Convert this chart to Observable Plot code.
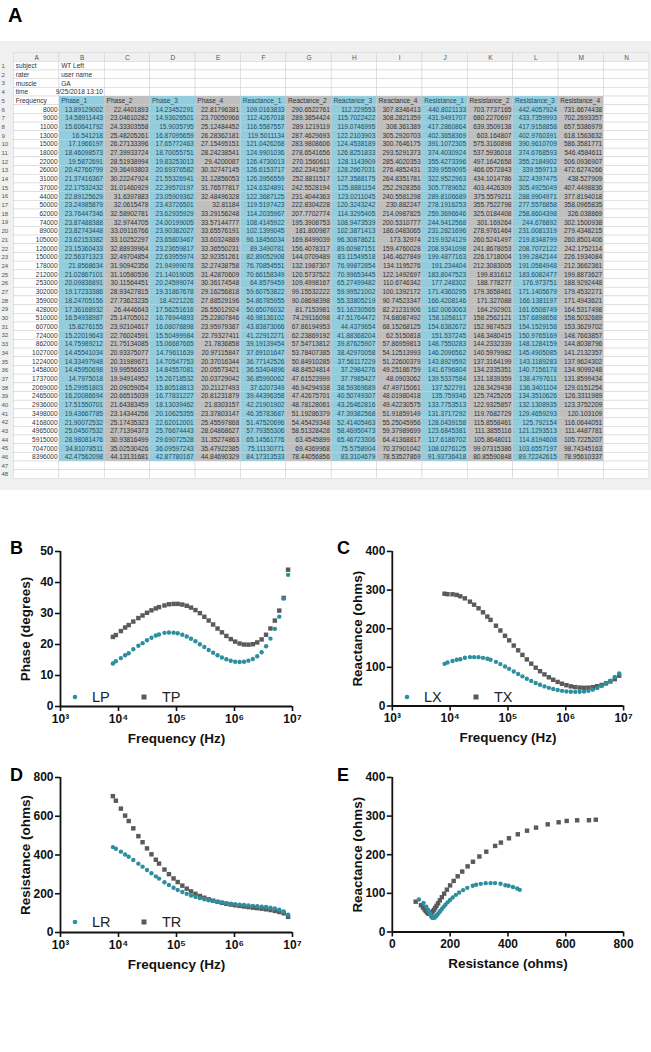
<!DOCTYPE html>
<html><head><meta charset="utf-8">
<script src="https://cdn.jsdelivr.net/npm/d3@7"></script>
<script src="https://cdn.jsdelivr.net/npm/@observablehq/plot@0.6"></script>
<style>
body{margin:0;background:#fff;width:651px;height:1052px;position:relative;overflow:hidden;font-family:"Liberation Sans",Arial,sans-serif}
.abs{position:absolute}
.plab{position:absolute;font-weight:bold;font-size:18px;color:#000;line-height:1}
.chart text{font-weight:bold;fill:#111}
.chart g[aria-label="x-axis label"] text,.chart g[aria-label="y-axis label"] text{font-size:13.5px}
.leg{position:absolute;font-size:14.5px;color:#222;line-height:1}
#sheet{position:absolute;left:0;top:41px;width:651px;height:470px;overflow:hidden}
</style></head><body>
<div class="plab" style="left:8px;top:5px;font-size:20px">A</div>
<div id="sheet"></div>
<div class="plab" style="left:10px;top:539px">B</div>
<div class="plab" style="left:337px;top:539px">C</div>
<div class="plab" style="left:10px;top:766px">D</div>
<div class="plab" style="left:337px;top:766px">E</div>
<div id="cB" class="abs chart" style="left:0;top:540px"></div>
<div id="cC" class="abs chart" style="left:332px;top:540px"></div>
<div id="cD" class="abs chart" style="left:0;top:766px"></div>
<div id="cE" class="abs chart" style="left:332px;top:766px"></div>
<script>
// ---------- DATA ----------
const metaLabels = ["subject", "rater", "muscle", "time"];
const metaValues = ["WT Left", "user name", "GA", "9/25/2018 13:10"];
const headers = ["Phase_1","Phase_2","Phase_3","Phase_4","Reactance_1","Reactance_2","Reactance_3","Reactance_4","Resistance_1","Resistance_2","Resistance_3","Resistance_4"];
const frequency = [8000,9000,11000,13000,15000,18000,22000,26000,31000,37000,44000,50000,62000,74000,89000,105000,126000,150000,178000,212000,253000,302000,359000,428000,510000,607000,724000,862000,1027000,1224000,1458000,1737000,2069000,2465000,2936000,3498000,4168000,4965000,5915000,7047000,8396000];
const phase1 = [13.89129002,14.58911443,15.60641792,16.541218,17.1966197,18.46098573,19.5872691,20.42766799,21.37416367,22.17532432,22.89125629,23.24985879,23.76447346,23.87488388,23.82743448,23.62153382,23.15360433,22.56371323,21.8568634,21.02867101,20.09836891,19.17233386,18.24705156,17.36168932,16.54938987,15.8276155,15.22019643,14.75989212,14.45541034,14.33497948,14.45950698,14.7975018,15.29951803,16.20086694,17.51550701,19.43667785,21.90072532,25.04507532,28.98081476,34.81078511,42.47562098];
const phase2 = [22.4401893,23.04610282,24.33303558,25.48205261,26.27133396,27.39933724,28.51938994,29.36493803,30.22247924,31.01460929,31.6397883,32.0615478,32.58902781,32.9744705,33.09116766,33.10252297,32.88939964,32.49704854,31.90942356,31.10580536,30.11564451,28.93427815,27.73623235,26.4446643,25.14705012,23.92104617,22.76024591,21.75134085,20.93375077,20.31989671,19.99556633,19.94914952,20.09059054,20.66515039,21.64383459,23.14344256,25.17435323,27.71394373,30.93816499,35.02530426,44.13131681];
const phase3 = [14.23452291,14.93626501,15.9035795,16.87095659,17.65772463,18.70055751,19.83253013,20.69376582,21.55326941,22.39570197,23.05909362,23.43726501,23.62935929,24.00199005,23.90382027,23.65803467,23.23659817,22.63955974,21.94999078,21.14019005,20.24599074,19.31867678,18.4221226,17.56251616,16.76944893,16.08078898,15.50499984,15.06687665,14.79611639,14.70547753,14.84557081,15.26718532,15.80518813,16.77831227,18.13039462,20.10625355,22.62012001,25.76674443,29.69072528,36.09597243,42.87780167];
const phase4 = [22.81796381,23.70050966,25.12484452,26.28362181,27.15495151,28.24238541,29.4200087,30.32747145,31.12856053,31.76577817,32.48496328,32.81184,33.29156248,33.57144777,33.65576191,33.60324889,33.36550231,32.92351261,32.27438758,31.42870609,30.36174548,29.16256818,27.88529196,26.55012924,25.22807846,23.95979387,22.79327411,21.7836858,20.97115847,20.37016344,20.05573421,20.03729042,20.21127493,20.81231879,21.8303157,23.37803147,25.45597868,28.04868627,31.35274863,35.47922385,44.84690329];
const reactance1 = [109.0163833,112.4267018,116.5587557,119.5011134,121.0426268,124.9901036,126.4730013,126.6153717,126.3956559,124.6324891,122.3687125,119.5197423,114.2035967,108.4145922,102.1399045,96.18456034,89.3490781,82.89052908,76.70854551,70.66158349,64.8579459,59.60753822,54.86785955,50.65076032,46.98136102,43.83873066,41.22912271,39.19139454,37.69101647,36.77142526,36.53404896,36.85990062,37.6207349,39.44396358,42.21901902,46.35783687,51.47520696,57.79355306,65.14561776,75.11130771,84.17313533];
const reactance2 = [290.6522761,289.3854424,289.1219119,287.4629693,283.9808606,278.6541656,270.1560611,262.2341587,252.8811517,242.5528194,231.4044363,222.8304228,207.7702774,195.3908753,181.800987,169.8499039,156.4078317,144.0709489,132.1987307,120.5737522,109.4998167,99.15532222,90.08698398,81.7153981,74.29116098,67.86194953,62.23869192,57.54713812,53.78407385,50.84910285,48.84524814,47.61523999,46.94294938,47.42675701,48.78128061,51.19286379,54.45429348,58.51328428,63.4545899,69.4369968,78.44056856];
const reactance3 = [112.229553,115.7022422,119.0746995,122.2103903,124.4538189,126.8251833,128.1143909,128.2667031,127.3588175,125.8881154,123.0211045,120.3243242,114.3295405,108.9473539,102.3871413,96.30878621,89.60987151,83.11549518,76.99872854,70.99653445,65.27499482,59.99521002,55.33805219,51.16230565,47.51764472,44.4379654,41.88368204,39.87625907,38.42970058,37.56117229,37.2984276,37.7985427,38.59369689,40.50749307,43.26462816,47.39382568,52.41405463,58.46950473,65.46723306,75.5758904,83.3104679];
const reactance4 = [307.8346413,308.2821359,308.361389,305.2920703,300.7646175,293.5291373,285.4020353,276.4852431,264.8351781,252.2928356,240.5581298,230.882247,214.0987825,200.5310777,186.0483065,173.32974,159.4760028,146.4627849,134.1195276,122.1492697,110.6746342,100.1392172,90.74523347,82.21231906,74.68087492,68.15268125,62.5150818,57.86959813,54.12513993,51.22600379,49.25186759,48.0903062,47.49715061,48.01980418,49.42230575,51.91859149,55.25045956,59.37989699,64.41368817,70.37901042,78.53527869];
const resistance1 = [440.8021133,431.9491707,417.2860864,402.3658369,391.1072305,374.4030924,355.4273396,339.9559095,322.9522963,305.7789652,289.8106689,278.1916253,259.3696646,244.9412568,231.2821696,219.9324129,208.9341098,199.4877163,191.234404,183.8047523,177.248302,171.4360295,166.4208146,162.0063063,158.1058117,154.6382672,151.537245,148.7550283,146.2096562,143.8929592,141.6796804,139.5337584,137.522791,135.759346,133.7753513,131.3717292,128.0439158,123.6845381,117.6186702,108.0276125,91.93736418];
const resistance2 = [703.7737165,680.2270697,639.3509138,603.164807,575.3160898,537.5936018,497.1642658,466.0572843,434.1014786,403.4426309,375.5579211,355.7522798,325.0184408,301.169264,278.9761464,260.5241497,241.8678053,226.1718004,212.3083005,199.831612,188.778277,179.3658461,171.327088,164.292901,158.2562121,152.9874523,148.3480415,144.2332339,140.5979982,137.3164199,134.2335351,131.1839359,128.3429438,125.7425205,122.9325857,119.7682729,115.8558461,111.3855116,105.8648011,99.07315386,80.85590848];
const resistance3 = [442.4057924,433.7359993,417.9158858,402.9760391,390.9610709,374.6768593,355.2184902,339.559713,322.4397475,305.4925049,288.9904971,277.5576858,258.8604398,244.676892,231.0081319,219.8348799,208.7072122,199.2842144,191.0584948,183.6082477,176.973751,171.1405679,166.1381197,161.6508749,157.6898658,154.1529158,150.9765169,148.1284159,145.4905085,143.1189283,140.7156178,138.4797611,136.3401104,134.3510626,132.1308935,129.4659293,125.792154,121.1293513,114.8194608,103.6557197,89.72242615];
const resistance4 = [731.6674438,702.2693357,657.5386979,618.1563632,586.3581771,546.4584611,506.0936907,472.6274266,438.527909,407.4498836,377.8194018,358.0965835,326.038869,302.1500938,279.4348215,260.8501406,242.1752114,226.1934084,212.3662361,199.8873627,188.9292448,179.4532271,171.4943621,164.5317498,158.5032689,153.3629702,148.7663857,144.8038796,141.2132357,137.9624302,134.9099248,131.8599434,129.0151254,126.3311989,123.3752209,120.103109,116.0644051,111.4487781,105.7225207,98.74345163,78.95610337];
const sheetColumns = ["A","B","C","D","E","F","G","H","I","J","K","L","M","N"];
const freqTicks = [1e3, 1e4, 1e5, 1e6, 1e7];
const legendB = ["LP", "TP"], legendC = ["LX", "TX"], legendD = ["LR", "TR"];

// ---------- SPREADSHEET (panel A) ----------
const TEAL = "#2b8f9f", GREY = "#5a5a5a";
const BLUE_FILL = "#93cddd", GREY_FILL = "#bfbfbf";
const series = [phase1,phase2,phase3,phase4,reactance1,reactance2,reactance3,reactance4,resistance1,resistance2,resistance3,resistance4];
const cells = [];
const nRows = 48;
for (let r = 0; r <= nRows; r++) {
  sheetColumns.forEach((c, ci) => {
    let text = "", align = "start", fill = "#ffffff", ink = "#333333", stroke = "#d4d4d4";
    if (r === 0) { text = c; align = "middle"; fill = "#f0f0f0"; ink = "#555"; }
    else if (r <= 4) {
      if (ci === 0) text = metaLabels[r-1];
      if (ci === 1) { text = metaValues[r-1]; if (r === 4) align = "end"; }
    } else if (r <= 46 && ci >= 1 && ci <= 12) {
      const blue = ci % 2 === 1;
      fill = blue ? BLUE_FILL : GREY_FILL; stroke = "none";
      ink = blue ? "#1f4f66" : "#333333";
      if (r === 5) text = headers[ci-1];
      else { text = String(series[ci-1][r-6]); align = "end"; }
    } else if (ci === 0) {
      if (r === 5) text = "Frequency";
      else if (r <= 46) { text = String(frequency[r-6]); align = "end"; }
    }
    cells.push({row: r, col: c, text, align, fill, ink, stroke});
  });
}
const bw = 47.3;
const sheet = Plot.plot({
  width: 12 + bw * sheetColumns.length, height: 9.5 * (nRows + 1),
  marginLeft: 12, marginRight: 0, marginTop: 0, marginBottom: 0,
  style: {background: "#f0f0f0", fontFamily: "Liberation Sans, Arial, sans-serif", fontSize: "6.8px", overflow: "hidden"},
  x: {type: "band", domain: sheetColumns, padding: 0, axis: null},
  y: {type: "band", domain: d3.range(0, nRows + 1), padding: 0},
  color: {type: "identity"},
  marks: [
    Plot.cell(cells, {x: "col", y: "row", fill: "fill", stroke: "stroke", strokeWidth: 0.6, inset: 0}),
    Plot.text(cells.filter(d => d.align === "start" && d.text), {x: "col", y: "row", text: "text", fill: "ink", textAnchor: "start", dx: -bw/2 + 2}),
    Plot.text(cells.filter(d => d.align === "end" && d.text), {x: "col", y: "row", text: "text", fill: "ink", textAnchor: "end", dx: bw/2 - 2}),
    Plot.text(cells.filter(d => d.align === "middle" && d.text), {x: "col", y: "row", text: "text", fill: "ink", textAnchor: "middle"}),
    Plot.axisY({tickSize: 0, tickPadding: 0, textAnchor: "start", dx: -11, fontSize: 6.3, fill: "#555", tickFormat: d => d === 0 ? "" : d, label: null})
  ]
});
document.getElementById("sheet").append(sheet);

// ---------- CHARTS ----------
const rows = frequency.map((f, i) => ({f, p1: phase1[i], p2: phase2[i], x1: reactance1[i], x2: reactance2[i], r1: resistance1[i], r2: resistance2[i]}));
const sup = {3: "\u00B3", 4: "\u2074", 5: "\u2075", 6: "\u2076", 7: "\u2077"};
function chart({x, y1, y2, xType, xDomain, xTicks, xFormat, xLabel, yDomain, yTicks, yLabel}) {
  return Plot.plot({
    width: 320, height: 230, marginLeft: 60, marginRight: 28, marginTop: 11, marginBottom: 64,
    style: {fontFamily: "Liberation Sans, Arial, sans-serif", fontSize: "12px", color: "#111", background: "transparent", overflow: "visible"},
    x: {type: xType, domain: xDomain},
    y: {domain: yDomain},
    marks: [
      Plot.axisX({ticks: xTicks, tickFormat: xFormat, tickSize: 5, tickPadding: 3, strokeWidth: 1.6, label: xLabel, labelAnchor: "center", labelOffset: 36, labelArrow: "none"}),
      Plot.axisY({ticks: yTicks, tickSize: 5, tickPadding: 2, strokeWidth: 1.6, label: yLabel, labelAnchor: "center", labelOffset: 40, labelArrow: "none"}),
      Plot.ruleX([xDomain[0]], {strokeWidth: 1.8}),
      Plot.ruleY([yDomain[0]], {strokeWidth: 1.8}),
      Plot.dot(rows, {x: x[1], y: y2, symbol: "square", r: 2.5, fill: GREY}),
      Plot.dot(rows, {x: x[0], y: y1, symbol: "circle", r: 2.2, fill: TEAL})
    ]
  });
}
const logX = {xType: "log", xDomain: [1e3, 1e7], xTicks: freqTicks, xFormat: d => "10" + sup[Math.round(Math.log10(d))], xLabel: "Frequency (Hz)"};
document.getElementById("cB").append(chart({...logX, x: ["f","f"], y1: "p1", y2: "p2", yDomain: [0, 50], yTicks: d3.range(0, 51, 10), yLabel: "Phase (degrees)"}));
document.getElementById("cC").append(chart({...logX, x: ["f","f"], y1: "x1", y2: "x2", yDomain: [0, 400], yTicks: d3.range(0, 401, 100), yLabel: "Reactance (ohms)"}));
document.getElementById("cD").append(chart({...logX, x: ["f","f"], y1: "r1", y2: "r2", yDomain: [0, 800], yTicks: d3.range(0, 801, 200), yLabel: "Resistance (ohms)"}));
document.getElementById("cE").append(chart({x: ["r1","r2"], y1: "x1", y2: "x2", xType: "linear", xDomain: [0, 800], xTicks: d3.range(0, 801, 200), xFormat: d => d, xLabel: "Resistance (ohms)", yDomain: [0, 400], yTicks: d3.range(0, 401, 100), yLabel: "Reactance (ohms)"}));

// ---------- LEGENDS ----------
function legend(left, top, labels) {
  const [a, b] = labels;
  const html = `
   <svg class="abs" style="left:${left-3}px;top:${top-3}px" width="6" height="6"><circle cx="3" cy="3" r="2.3" fill="${TEAL}"/></svg>
   <div class="leg" style="left:${left+17}px;top:${top-7}px">${a}</div>
   <svg class="abs" style="left:${left+66}px;top:${top-3}px" width="6" height="6"><rect x="0.5" y="0.5" width="5" height="5" fill="${GREY}"/></svg>
   <div class="leg" style="left:${left+87}px;top:${top-7}px">${b}</div>`;
  document.body.insertAdjacentHTML("beforeend", html);
}
legend(75, 697, legendB);
legend(407, 697, legendC);
legend(75, 922, legendD);
</script>
</body></html>
